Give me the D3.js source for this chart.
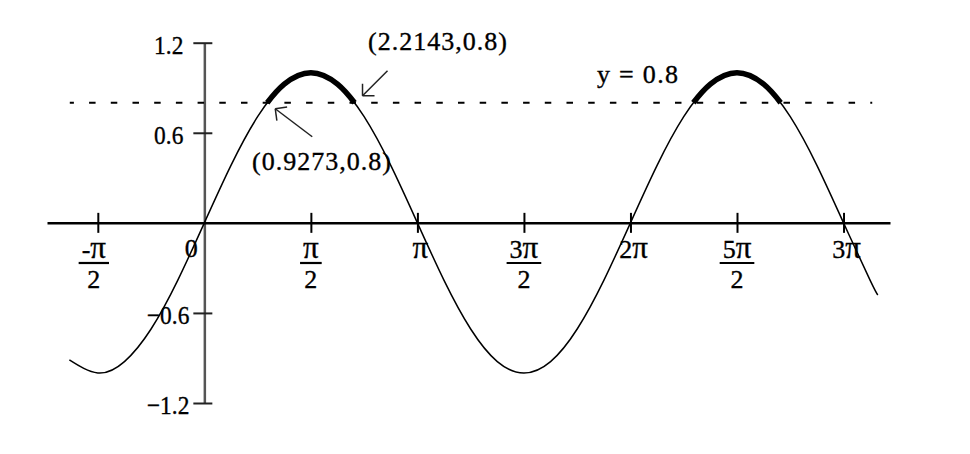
<!DOCTYPE html>
<html><head><meta charset="utf-8">
<script src="https://cdn.jsdelivr.net/npm/d3@7"></script>
<style>
body{margin:0;background:#fff}
svg{display:block;background:#fff}
text{font-family:"Liberation Serif","Times New Roman",serif;fill:#000;stroke:#000;stroke-width:0.35px}
</style>
</head><body><svg id="c" width="970" height="454"></svg>
<script>
// Curve y = sin(x)
const curveX = [-1.99, -1.5708, -1.1781, -0.7854, -0.3927, 0, 0.3927, 0.7854, 1.1781, 1.5708, 1.9635, 2.3562, 2.7489, 3.1416, 3.5343, 3.927, 4.3197, 4.7124, 5.1051, 5.4978, 5.8905, 6.2832, 6.6759, 7.0686, 7.4613, 7.854, 8.2467, 8.6394, 9.0321, 9.4248, 9.8175, 9.93];
const curveY = [-0.913, -1, -0.924, -0.707, -0.383, 0, 0.383, 0.707, 0.924, 1, 0.924, 0.707, 0.383, 0, -0.383, -0.707, -0.924, -1, -0.924, -0.707, -0.383, 0, 0.383, 0.707, 0.924, 1, 0.924, 0.707, 0.383, 0, -0.383, -0.48];
// Highlighted arcs where sin(x) >= 0.8
const highlight1X = [0.9273, 1.1781, 1.5708, 1.9635, 2.2143];
const highlight2X = [7.2105, 7.4613, 7.854, 8.2467, 8.4975];
const highlightY = [0.8, 0.924, 1, 0.924, 0.8];
// Horizontal line y = 0.8
const hLineY = 0.8;
const hLineX = [-1.984, 9.848];
// Axes
const xExtent = [-2.32, 10.11];
const yExtent = [-1.2, 1.2];
const xTickValues = [-1.5708, 1.5708, 3.1416, 4.7124, 6.2832, 7.854, 9.4248];
const xTickCoefs = ["-", "", "", "3", "2", "5", "3"];
const xTickDenominators = ["2", "2", "", "2", "", "2", ""];
const yTickValues = [-1.2, -0.6, 0.6, 1.2];
const yTickLabels = ["−1.2", "−0.6", "0.6", "1.2"];
// Annotations
const annotPoints = [[0.9273, 0.8], [2.2143, 0.8]];
const annotLabels = ["(0.9273,0.8)", "(2.2143,0.8)"];
const lineLabel = "y = 0.8";

const svg = d3.select("#c");
const x = d3.scaleLinear().domain(xExtent).range([47, 890]);
const y = d3.scaleLinear().domain(yExtent).range([403, 42.7]);
const x0 = x(0), y0 = y(0);
const FS = 26;

// y axis
const yAxisG = svg.append("g").attr("transform", `translate(${x0},0)`)
  .call(d3.axisLeft(y).tickValues(yTickValues).tickSizeOuter(0).tickFormat(""));
yAxisG.select(".domain").attr("stroke", "#555").attr("stroke-width", 2.5);
yAxisG.selectAll(".tick line").attr("x1", -11).attr("x2", 8).attr("stroke", "#222").attr("stroke-width", 2);
yAxisG.selectAll(".tick text").remove();
svg.append("g").selectAll("g").data(yTickValues).join("g")
  .attr("transform", d => `translate(${x0 - (d < 0 ? 15 : 21)},${y(d) + 11}) scale(0.9,1)`)
  .append("text")
  .attr("text-anchor", "end")
  .attr("font-size", FS)
  .text((d, i) => yTickLabels[i]);

// x axis
const xAxisG = svg.append("g").attr("transform", `translate(0,${y0})`)
  .call(d3.axisBottom(x).tickValues(xTickValues).tickSizeOuter(0).tickFormat(""));
xAxisG.select(".domain").attr("stroke", "#000").attr("stroke-width", 2.5);
xAxisG.selectAll(".tick line").attr("y1", -10).attr("y2", 10).attr("stroke", "#000").attr("stroke-width", 2);

const lbl = svg.append("g");
xTickValues.forEach((v, i) => {
  const cx = x(v) + (i === 0 ? -4 : (xTickDenominators[i] === "" ? 3 : 0));
  const num = lbl.append("text").attr("x", cx).attr("y", 258)
    .attr("text-anchor", "middle").attr("font-size", FS);
  num.append("tspan").text(xTickCoefs[i]);
  num.append("tspan").attr("font-size", 31).text("π");
  if (xTickDenominators[i]) {
    const w = num.node().getComputedTextLength() + 6;
    lbl.append("line").attr("x1", cx - w / 2).attr("x2", cx + w / 2)
      .attr("y1", 263).attr("y2", 263).attr("stroke", "#000").attr("stroke-width", 2.2);
    lbl.append("text").attr("x", cx).attr("y", 288)
      .attr("text-anchor", "middle").attr("font-size", FS).text(xTickDenominators[i]);
  }
});
lbl.append("text").attr("x", x0 - 13).attr("y", 257).attr("text-anchor", "middle")
  .attr("font-size", FS).text("0");

// dashed line
svg.append("line")
  .attr("x1", x(hLineX[0])).attr("x2", x(hLineX[1]))
  .attr("y1", y(hLineY)).attr("y2", y(hLineY))
  .attr("stroke", "#000").attr("stroke-width", 2)
  .attr("stroke-dasharray", "6.5,15.2").attr("stroke-dashoffset", 2.4);

// curve
const line = d3.line().x(d => x(d[0])).y(d => y(d[1])).curve(d3.curveNatural);
svg.append("path").datum(curveX.map((v, i) => [v, curveY[i]]))
  .attr("d", line).attr("fill", "none").attr("stroke", "#000").attr("stroke-width", 1.5);
[highlight1X, highlight2X].forEach(hx => {
  svg.append("path").datum(hx.map((v, i) => [v, highlightY[i]]))
    .attr("d", line).attr("fill", "none").attr("stroke", "#000")
    .attr("stroke-width", 5.5).attr("stroke-linecap", "butt");
});

// annotations
svg.append("text").attr("x", 597).attr("y", 83).attr("font-size", FS)
  .attr("letter-spacing", 1.3).text(lineLabel);

function arrow(tipX, tipY, tailX, tailY) {
  const g = svg.append("g").attr("stroke", "#222").attr("stroke-width", 1.5).attr("fill", "none");
  g.append("line").attr("x1", tailX).attr("y1", tailY).attr("x2", tipX).attr("y2", tipY);
  const ang = Math.atan2(tailY - tipY, tailX - tipX);
  [-Math.PI / 4, Math.PI / 4].forEach(a => {
    g.append("line").attr("x1", tipX).attr("y1", tipY)
      .attr("x2", tipX + 12 * Math.cos(ang + a)).attr("y2", tipY + 12 * Math.sin(ang + a));
  });
}
// lower-left annotation
const p0 = annotPoints[0];
arrow(x(p0[0]) + 8, y(p0[1]) + 6, x(p0[0]) + 45, y(p0[1]) + 34);
svg.append("text").attr("x", 252).attr("y", 170).attr("font-size", FS)
  .attr("letter-spacing", 1).text(annotLabels[0]);
// upper annotation
const p1 = annotPoints[1];
arrow(x(p1[0]) + 8, y(p1[1]) - 7, x(p1[0]) + 33, y(p1[1]) - 32);
svg.append("text").attr("x", 368).attr("y", 50).attr("font-size", FS)
  .attr("letter-spacing", 1).text(annotLabels[1]);
</script>
</body></html>
